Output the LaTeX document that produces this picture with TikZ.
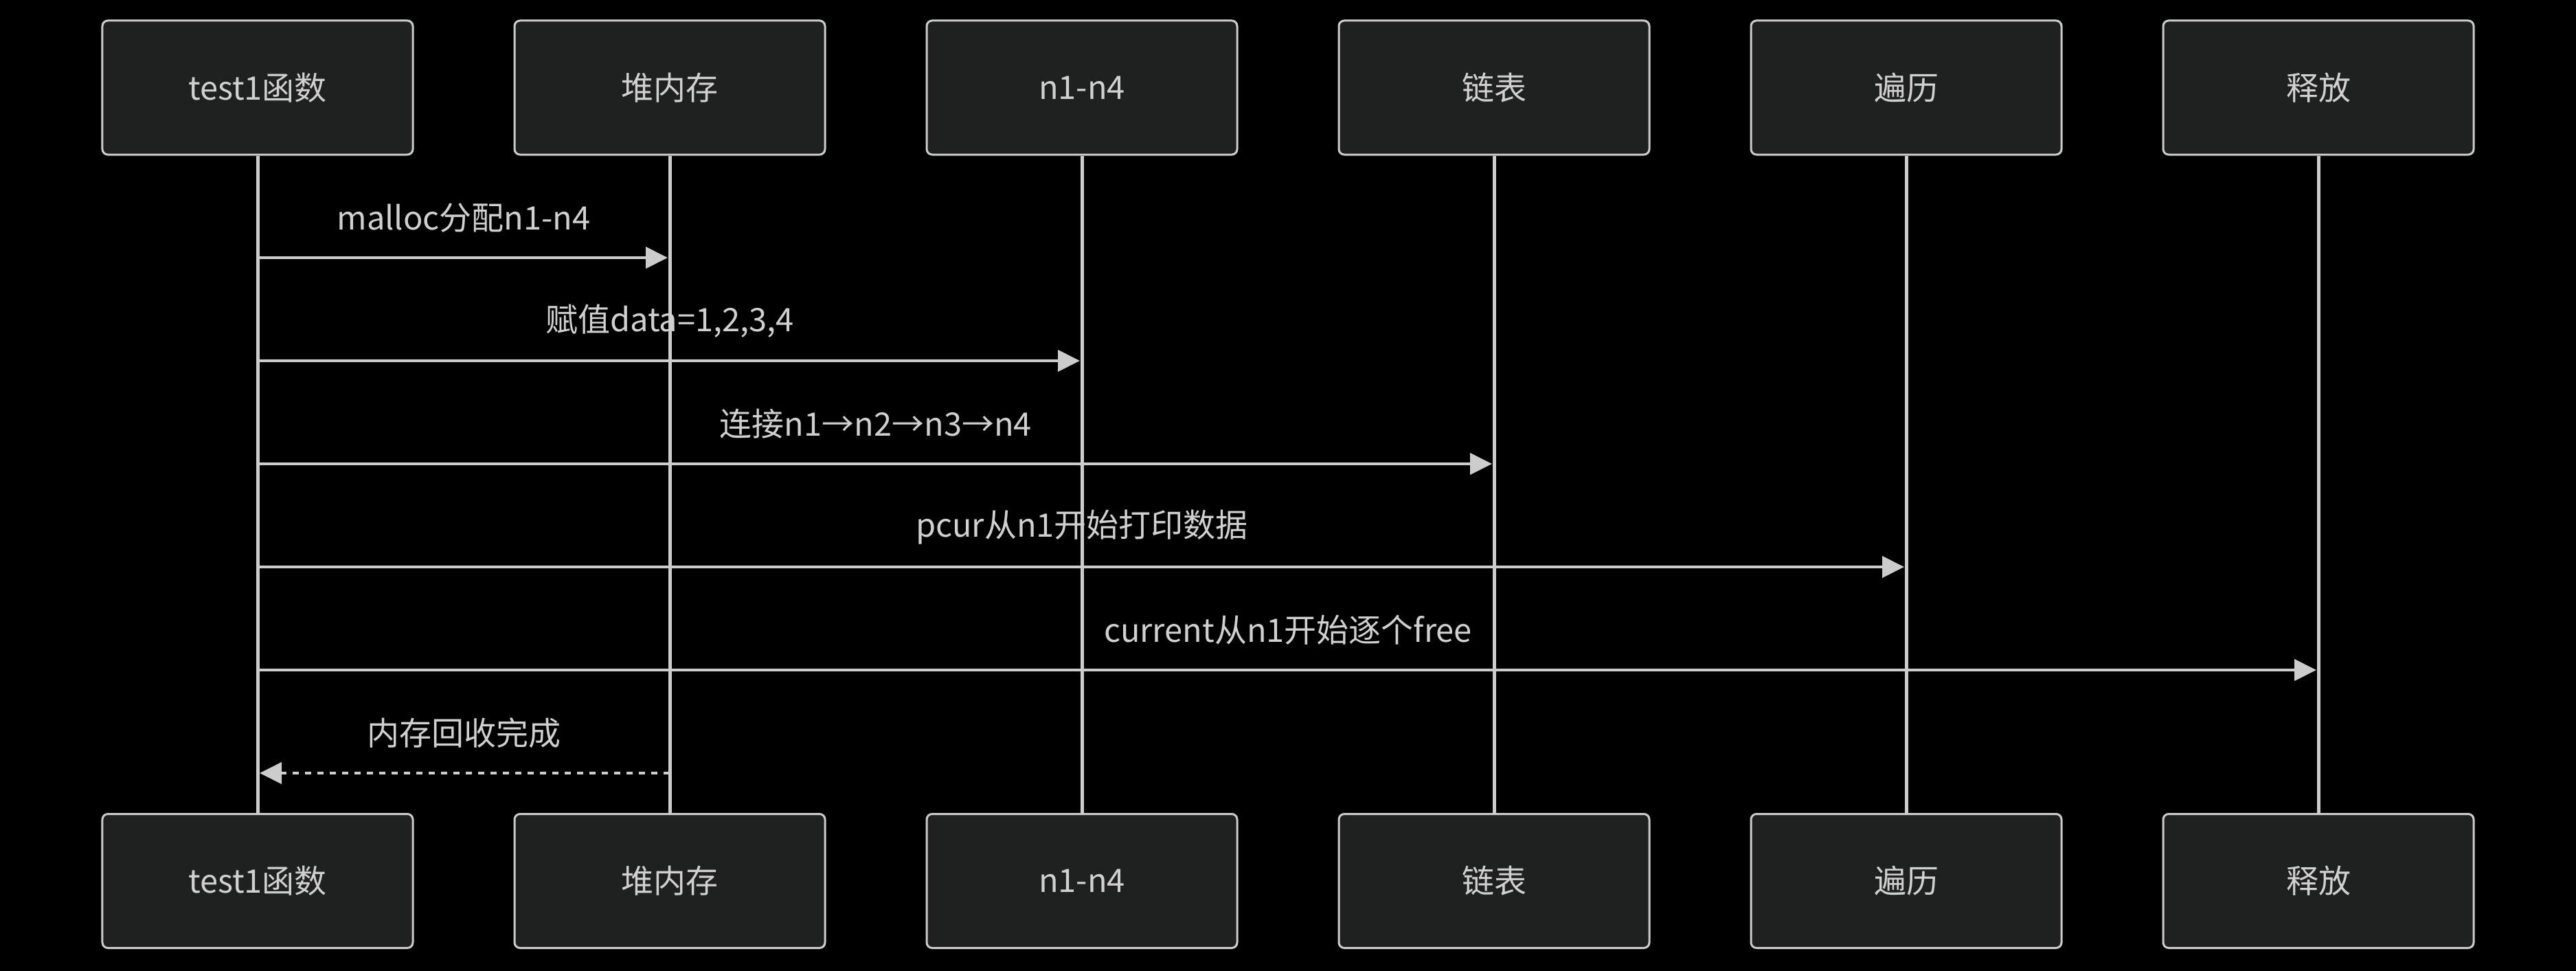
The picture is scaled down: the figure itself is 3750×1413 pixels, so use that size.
\documentclass[tikz,border=0pt]{standalone}
\usepackage{fontspec}
\setmainfont{Noto Sans CJK SC}
\usetikzlibrary{arrows.meta}
\definecolor{boxfill}{HTML}{1F2020}
\definecolor{linec}{HTML}{CCCCCC}
\definecolor{txt}{HTML}{D0D0D0}
\begin{document}
\begin{tikzpicture}[x=0.2pt,y=-0.2pt, font=\fontsize{9.4pt}{11pt}\selectfont,
 actor/.style={draw=linec, fill=boxfill, rounded corners=1.6pt, line width=0.6pt, minimum width=90.4pt, minimum height=39pt, text=txt, inner sep=0pt},
 life/.style={draw=linec, line width=1pt},
 msg/.style={draw=linec, line width=0.8pt, -{Triangle[length=6.4pt,width=6.2pt]}},
 ret/.style={msg, dash pattern=on 1.8pt off 1.8pt},
 lbl/.style={text=txt, inner sep=0pt}]
\fill[black] (0,0) rectangle (3750,1413);
\useasboundingbox (0,0) rectangle (3750,1413);
% actors top
\node[actor] (tA) at (375,127.5) {test1函数};
\node[actor] (tB) at (975,127.5) {堆内存};
\node[actor] (tC) at (1575,127.5) {n1-n4};
\node[actor] (tD) at (2175,127.5) {链表};
\node[actor] (tE) at (2775,127.5) {遍历};
\node[actor] (tF) at (3375,127.5) {释放};
% actors bottom
\node[actor] (bA) at (375,1282) {test1函数};
\node[actor] (bB) at (975,1282) {堆内存};
\node[actor] (bC) at (1575,1282) {n1-n4};
\node[actor] (bD) at (2175,1282) {链表};
\node[actor] (bE) at (2775,1282) {遍历};
\node[actor] (bF) at (3375,1282) {释放};
% lifelines
\foreach \p in {A,B,C,D,E,F} { \draw[life] (t\p.south) -- (b\p.north); }
% message endpoints
\coordinate (s1) at (375,375);  \coordinate (e1) at (972,375);
\coordinate (s2) at (375,525);  \coordinate (e2) at (1572,525);
\coordinate (s3) at (375,675);  \coordinate (e3) at (2172,675);
\coordinate (s4) at (375,825);  \coordinate (e4) at (2772,825);
\coordinate (s5) at (375,975);  \coordinate (e5) at (3372,975);
\coordinate (s6) at (975,1125); \coordinate (e6) at (378,1125);
% messages
\draw[msg] (s1) -- (e1);
\node[lbl] (l1) at (675,317) {malloc分配n1-n4};
\draw[msg] (s2) -- (e2);
\node[lbl] (l2) at (975,467) {赋值data=1,2,3,4};
\draw[msg] (s3) -- (e3);
\node[lbl] (l3) at (1275,617) {连接n1→n2→n3→n4};
\draw[msg] (s4) -- (e4);
\node[lbl] (l4) at (1575,767) {pcur从n1开始打印数据};
\draw[msg] (s5) -- (e5);
\node[lbl] (l5) at (1875,917) {current从n1开始逐个free};
\draw[ret] (s6) -- (e6);
\node[lbl] (l6) at (675,1067) {内存回收完成};
\end{tikzpicture}
\end{document}
